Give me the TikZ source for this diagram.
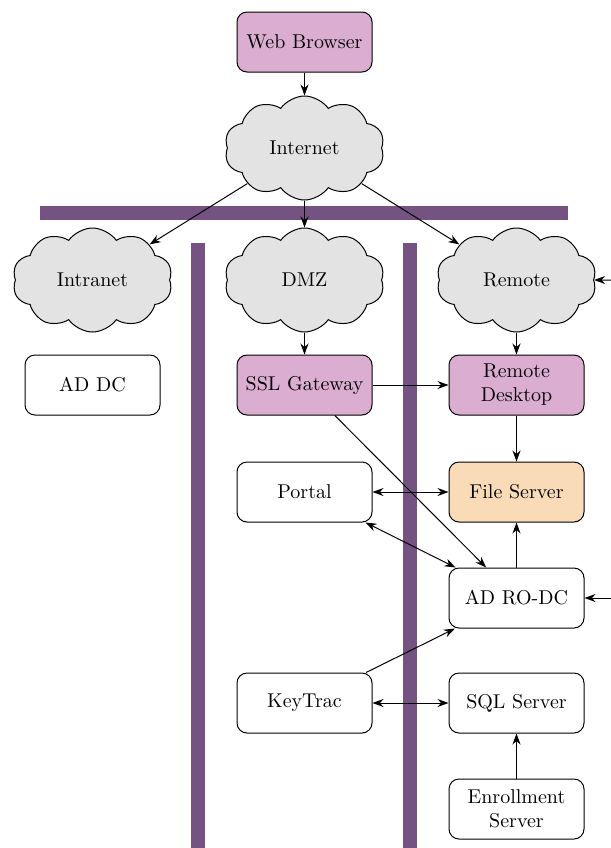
\documentclass[tikz,border=0pt]{standalone}
\usetikzlibrary{shapes.symbols,arrows.meta}
\definecolor{boxpurple}{RGB}{219,173,208}
\definecolor{boxorange}{RGB}{250,219,184}
\definecolor{cloudgray}{RGB}{227,227,227}
\definecolor{barpurple}{RGB}{116,82,129}
\begin{document}
\begin{tikzpicture}[x=0.5pt,y=-0.5pt, line width=0.5pt,
  server/.style={draw, rounded corners=5pt, minimum width=67.5pt,
    minimum height=30pt, align=center, fill=white},
  hostbox/.style={server, fill=boxpurple},
  storebox/.style={server, fill=boxorange},
  net/.style={cloud, cloud puffs=10, cloud puff arc=110, aspect=2, draw,
    fill=cloudgray, minimum width=80pt, minimum height=52pt},
  wall/.style={barpurple, line width=7pt},
  link/.style={-{Stealth[length=5.5pt,width=4pt]}},
  dlink/.style={{Stealth[length=5.5pt,width=4pt]}-{Stealth[length=5.5pt,width=4pt]}}]
\useasboundingbox (0,0) rectangle (611,848);
\clip (0,0) rectangle (611,848);

% network zone walls
\draw[wall] (40,213) -- (568,213);
\draw[wall] (198,243) -- (198,870);
\draw[wall] (410,243) -- (410,870);

% nodes
\node[hostbox] (web) at (304.5,42) {Web Browser};
\node[net] (internet) at (304.5,148) {Internet};
\node[net] (intranet) at (92.5,280) {Intranet};
\node[net] (dmz) at (304.5,280) {DMZ};
\node[net] (remote) at (516.5,280) {Remote};

\node[server] (addc) at (92.5,385) {AD DC};
\node[hostbox] (ssl) at (304.5,385) {SSL Gateway};
\node[hostbox] (rdp) at (516.5,385) {Remote\\Desktop};
\node[server] (portal) at (304.5,492) {Portal};
\node[storebox] (files) at (516.5,492) {File Server};
\node[server] (rodc) at (516.5,598) {AD RO-DC};
\node[server] (keytrac) at (304.5,703) {KeyTrac};
\node[server] (sql) at (516.5,703) {SQL Server};
\node[server] (enroll) at (516.5,809) {Enrollment\\Server};

\coordinate (remoteIn) at (650,280);
\coordinate (rodcIn) at (650,598);

% connections
\draw[link] (web) -- (internet);
\draw[link] (internet) -- (intranet);
\draw[link] (internet) -- (dmz);
\draw[link] (internet) -- (remote);
\draw[link] (dmz) -- (ssl);
\draw[link] (remote) -- (rdp);
\draw[link] (remoteIn) -- (remote);
\draw[link] (ssl) -- (rdp);
\draw[link] (rdp) -- (files);
\draw[link] (ssl) -- (rodc);
\draw[dlink] (portal) -- (files);
\draw[dlink] (portal) -- (rodc);
\draw[link] (rodc) -- (files);
\draw[link] (rodcIn) -- (rodc);
\draw[link] (keytrac) -- (rodc);
\draw[dlink] (keytrac) -- (sql);
\draw[link] (enroll) -- (sql);
\end{tikzpicture}
\end{document}
